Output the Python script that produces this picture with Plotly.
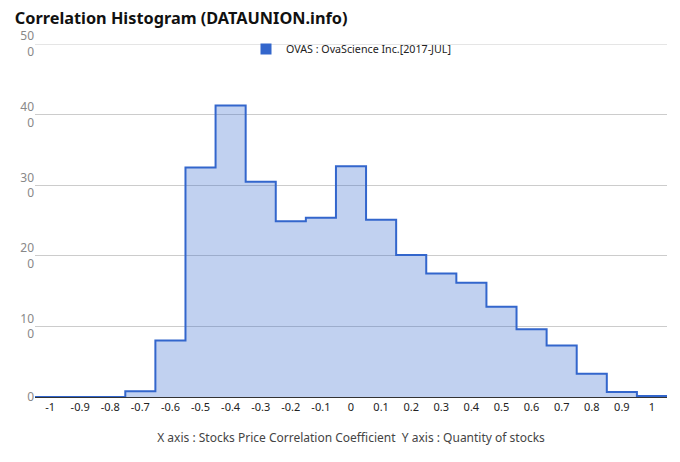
import plotly.graph_objects as go

# Data
x_centers = [-1.0, -0.9, -0.8, -0.7, -0.6, -0.5, -0.4, -0.3, -0.2, -0.1, 0.0,
             0.1, 0.2, 0.3, 0.4, 0.5, 0.6, 0.7, 0.8, 0.9, 1.0]
counts = [0, 0, 0, 8, 80, 325, 413, 305, 249, 254, 327,
          251, 201, 175, 162, 128, 96, 73, 33, 7, 1.5]
x_tick_vals = [-1.0, -0.9, -0.8, -0.7, -0.6, -0.5, -0.4, -0.3, -0.2, -0.1, 0.0,
               0.1, 0.2, 0.3, 0.4, 0.5, 0.6, 0.7, 0.8, 0.9, 1.0]
x_tick_text = ["-1", "-0.9", "-0.8", "-0.7", "-0.6", "-0.5", "-0.4", "-0.3", "-0.2", "-0.1", "0",
               "0.1", "0.2", "0.3", "0.4", "0.5", "0.6", "0.7", "0.8", "0.9", "1"]
y_tick_vals = [0, 100, 200, 300, 400, 500]
y_tick_text = ["0", "10<br>0", "20<br>0", "30<br>0", "40<br>0", "50<br>0"]
series_name = "OVAS : OvaScience Inc.[2017-JUL]"

half = 0.05
xs = [x_centers[0] - half] + x_centers + [x_centers[-1] + half]
ys = [counts[0]] + counts + [counts[-1]]

fig = go.Figure()
fig.add_trace(go.Scatter(
    x=xs, y=ys, mode="lines", line=dict(color="#3366cc", width=2, shape="hvh"),
    fill="tozeroy", fillcolor="rgba(51,102,204,0.30)", showlegend=False, hoverinfo="skip",
    cliponaxis=False))
fig.add_trace(go.Scatter(
    x=[None], y=[None], mode="markers", name=series_name,
    marker=dict(symbol="square", size=11, color="#3366cc")))

# top gridline (plotly hides gridlines sitting on the plot edge)
fig.add_hline(y=y_tick_vals[-1], line=dict(color="#cccccc", width=1), layer="below")

fig.update_layout(
    width=680, height=462,
    margin=dict(l=27, r=21, t=36, b=73, autoexpand=False),
    paper_bgcolor="white", plot_bgcolor="white",
    font=dict(family="Noto Sans, sans-serif", size=11, color="#222"),
    title=dict(text="<b>Correlation Histogram (DATAUNION.info)</b>",
               x=0.01, xanchor="left", y=0.978, yanchor="middle",
               font=dict(size=16.3, color="#111", family="Noto Sans, sans-serif")),
    legend=dict(orientation="h", x=0.5, xanchor="center", y=0.986, yanchor="middle",
                font=dict(size=10.7, color="#222"), bgcolor="rgba(0,0,0,0)",
                itemwidth=30),
    xaxis=dict(range=[-1.05, 1.05], tickvals=x_tick_vals, ticktext=x_tick_text,
               showgrid=False, zeroline=False, showline=True, linecolor="#333",
               linewidth=1, tickfont=dict(size=11, color="#222"), ticks="",
               automargin=False,
               title=dict(text="X axis : Stocks Price Correlation Coefficient  Y axis : Quantity of stocks",
                          font=dict(size=12, color="#444"), standoff=20),
               fixedrange=True),
    yaxis=dict(range=[0, 500], tickvals=y_tick_vals, ticktext=y_tick_text,
               showgrid=True, gridcolor="#cccccc", gridwidth=1, zeroline=False,
               automargin=False,
               tickfont=dict(size=12, color="#888"), ticks="", fixedrange=True),
)

fig.write_html("out.html")
